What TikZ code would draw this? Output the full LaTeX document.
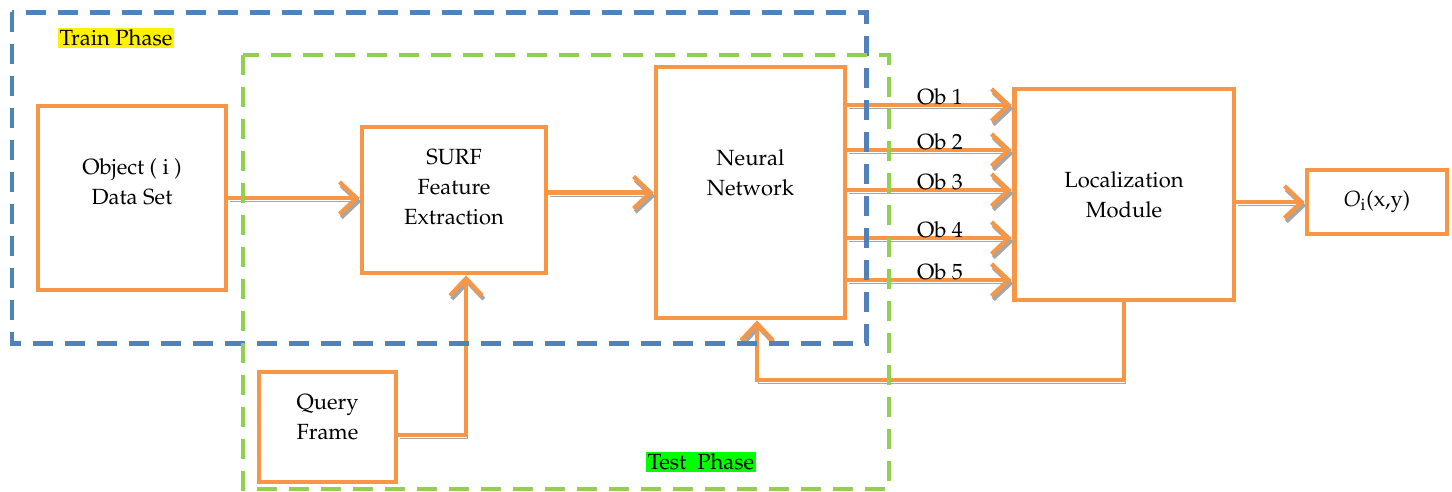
\documentclass[tikz,border=0pt]{standalone}
\usepackage[T1]{fontenc}
\usepackage{mathpazo}
\usetikzlibrary{arrows.meta}
\definecolor{boxorange}{HTML}{F79646}
\definecolor{trainblue}{HTML}{4F81BD}
\definecolor{testgreen}{HTML}{92D050}
\definecolor{hlgreen}{HTML}{00FF00}

\begin{document}
\begin{tikzpicture}[
  x=0.02cm, y=-0.02cm,
  blk/.style={draw=boxorange, line width=2.8pt, fill=white, inner sep=0pt},
  txt/.style={align=center, font=\fontsize{12.5}{17}\selectfont, inner sep=0pt},
  flow/.style={draw=boxorange, line width=2.6pt,
    -{Straight Barb[length=3.4mm, width=6.4mm, line width=2.4pt]},
    preaction={draw=gray!70, transform canvas={shift={(1pt,-2pt)}}}},
  frame/.style={line width=0.1cm, dash pattern=on 0.4cm off 0.24cm},
  phase/.style={font=\fontsize{12.5}{17}\selectfont, inner sep=1pt}
]
\useasboundingbox (0,0) rectangle (1452,491);
% the blocks
\node[blk, minimum width=3.76cm, minimum height=3.68cm,
  label={[txt, yshift=0.32cm]center:Object ( i )\\Data Set}] (obj) at (132,198) {};
\node[blk, minimum width=3.68cm, minimum height=2.92cm,
  label={[txt, yshift=0.26cm]center:SURF\\Feature\\Extraction}] (surf) at (454,200) {};
\node[blk, minimum width=3.78cm, minimum height=5.02cm,
  label={[txt, yshift=0.4cm]center:Neural\\Network}] (nn) at (750.5,192.5) {};
\node[blk, minimum width=4.4cm, minimum height=4.22cm,
  label={[txt]center:Localization\\Module}] (loc) at (1124,194.5) {};
\node[blk, minimum width=2.8cm, minimum height=1.28cm,
  label={[txt]center:$O_{\mathrm{i}}$(x,y)}] (out) at (1377,202) {};
\node[blk, minimum width=2.74cm, minimum height=2.2cm,
  label={[txt, yshift=0.2cm]center:Query\\Frame}] (qf) at (327.5,427) {};
% the connectors
\draw[flow] (obj.east) -- (obj.east -| surf.west);
\draw[flow] (surf.east |- nn.west) -- (nn.west);
\foreach \k/\yy in {1/105,2/150,3/190,4/238,5/280} {
  \draw[flow] (nn.east |- 0,\yy) -- (loc.west |- 0,\yy);
  \node[txt, anchor=base] (ob\k) at (940,\yy-1) {Ob \k};
}
\draw[flow] (loc.east |- out.west) -- (out.west);
\draw[flow] ([yshift=-0.16cm]qf.east) -| ([xshift=0.24cm]surf.south);
\coordinate (fb) at (757,380);
\draw[flow] (loc.south) |- (fb) -- (fb |- nn.south);
% the two phases
\draw[frame, draw=trainblue] (12,12) rectangle (866,343);
\draw[frame, draw=testgreen, line width=0.08cm] (243,55) rectangle (889,489);
\node[phase, fill=yellow] (train) at (116,38) {Train Phase};
\node[phase, fill=hlgreen] (test) at (701,462) {Test\ \ Phase};
\end{tikzpicture}
\end{document}
